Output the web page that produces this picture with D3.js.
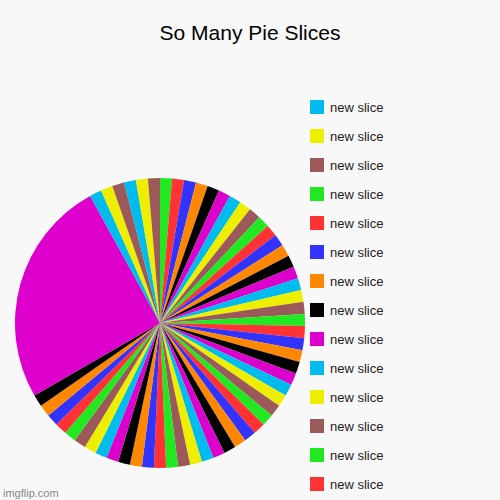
<!DOCTYPE html>
<html><head><meta charset="utf-8">
<script src="https://cdn.jsdelivr.net/npm/d3@7"></script>
<style>body{margin:0;background:#f8f8f8}</style>
</head><body>
<script>
// palette order as it appears clockwise from 12 o'clock
var palette = ['#22e822', '#ff3333', '#3333ff', '#ff8800', '#000000', '#dd00cc', '#00bbee', '#eeee00', '#9b5959'];
// slice values: 50 small ones, one big magenta, 6 small ones at the end
var values = [];
for (var i = 0; i < 50; i++) values.push(1);
values.push(19);
var tailValues = [1, 1, 1, 1, 1, 1];
values = values.concat(tailValues);
var tailColors = [6, 7, 8, 6, 7, 8];
var labels = values.map(function() { return 'new slice'; });

function colorOf(i) {
    return i <= 50 ? palette[i % 9] : palette[tailColors[i - 51]];
}

var width = 500, height = 500;
var svg = d3.select('body').append('svg').attr('width', width).attr('height', height);
svg.append('rect').attr('width', width).attr('height', height).attr('fill', '#f8f8f8');

svg.append('text')
    .attr('x', 250).attr('y', 40)
    .attr('text-anchor', 'middle')
    .attr('font-family', 'Arial, Liberation Sans, sans-serif')
    .attr('font-size', 21)
    .attr('fill', '#000')
    .text('So Many Pie Slices');

var pie = d3.pie().sort(null).value(function(d) { return d; });
var arc = d3.arc().innerRadius(0).outerRadius(145);
var g = svg.append('g').attr('transform', 'translate(160,323)');
g.selectAll('path')
    .data(pie(values))
    .enter().append('path')
    .attr('d', arc)
    .attr('fill', function(d, i) { return colorOf(i); });

// legend shows 14 entries starting at the cyan slice
var legendIdx = d3.range(6, 20);
var y = d3.scaleLinear().domain([0, 13]).range([108, 485]);
var lg = svg.append('g');
legendIdx.forEach(function(idx, k) {
    lg.append('rect')
        .attr('x', 310).attr('y', y(k) - 8)
        .attr('width', 14).attr('height', 14)
        .attr('fill', colorOf(idx));
    lg.append('text')
        .attr('x', 330).attr('y', y(k) + 4)
        .attr('font-family', 'Arial, Liberation Sans, sans-serif')
        .attr('font-size', 13)
        .attr('fill', '#222')
        .text(labels[idx]);
});

svg.append('text')
    .attr('x', 3).attr('y', 497)
    .attr('font-family', 'Arial, Liberation Sans, sans-serif')
    .attr('font-size', 11)
    .attr('fill', '#888')
    .text('imgflip.com');
</script>
</body></html>
